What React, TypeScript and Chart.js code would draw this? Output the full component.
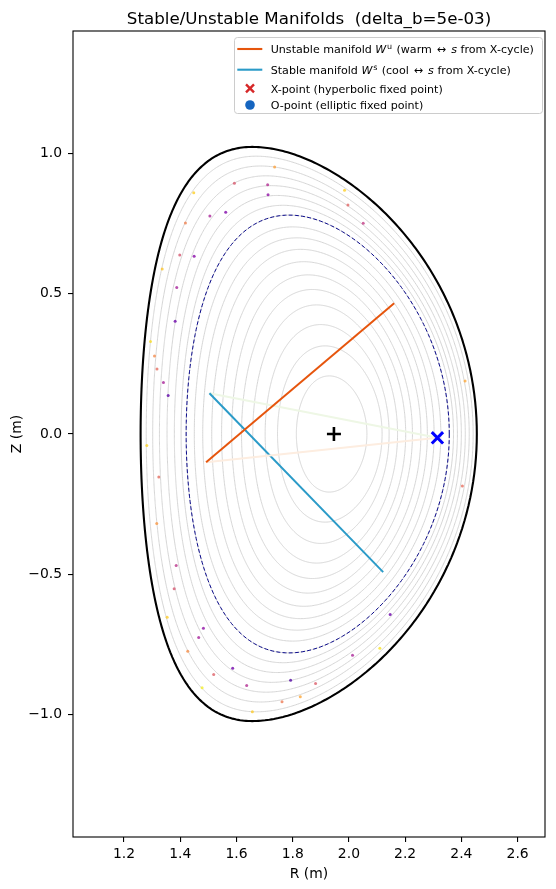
import React, { useEffect, useRef } from 'react';
import { Chart, registerables } from 'chart.js';

Chart.register(...registerables);

const W = 556;
const H = 889;
const FONT = "'DejaVu Sans', sans-serif";

const TITLE = 'Stable/Unstable Manifolds  (delta_b=5e-03)';
const X_LABEL = 'R (m)';
const Y_LABEL = 'Z (m)';

const xTicks = [1.2, 1.4, 1.6, 1.8, 2.0, 2.2, 2.4, 2.6];
const yTicks = [-1.0, -0.5, 0.0, 0.5, 1.0];
const xLimits = [1.0185, 2.6975];
const yLimits = [-1.436, 1.436];

// Grey flux surfaces: inboard / outboard midplane R, height of top, R of top, outboard squareness
const surfLeftR = [1.813, 1.746, 1.702, 1.658, 1.618, 1.583, 1.547, 1.512, 1.48, 1.45, 1.421, 1.403, 1.379, 1.353, 1.326, 1.302, 1.279];
const surfRightR = [2.064, 2.118, 2.143, 2.173, 2.202, 2.226, 2.256, 2.279, 2.303, 2.327, 2.357, 2.372, 2.386, 2.4, 2.414, 2.428, 2.442];
const surfTopZ = [0.207, 0.314, 0.39, 0.46, 0.515, 0.567, 0.614, 0.658, 0.699, 0.738, 0.78, 0.815, 0.85, 0.885, 0.92, 0.955, 0.99];
const surfTopR = [1.93, 1.915, 1.9, 1.885, 1.87, 1.855, 1.84, 1.828, 1.815, 1.8, 1.787, 1.765, 1.745, 1.725, 1.705, 1.685, 1.67];
const surfSquare = [0, 0, 0, 0, 0, 0, 0, 0, 0, 0, 0, 0.005, 0.01, 0.015, 0.02, 0.025, 0.03];

// Last closed surface (black) and the dashed surface: left R, right R, top Z, top R, squareness
const boundaryShape = [1.259, 2.455, 1.023, 1.656, 0.035];
const dashedShape = [1.421, 2.357, 0.78, 1.787, 0];

// Poincaré points
const poincareR = [1.7357, 1.5926, 1.7109, 1.7123, 1.448, 1.5055, 1.5617, 1.4185, 1.3983, 1.4494, 1.3357, 1.3876, 1.3819, 1.2942, 1.3084, 1.3173, 1.3403, 1.357, 1.281, 1.3237, 1.3165, 1.3855, 1.3784, 1.3535, 1.4824, 1.4657, 1.4267, 1.5865, 1.519, 1.4778, 1.6363, 1.7926, 1.8814, 1.827, 1.762, 1.6565, 2.0128, 2.0508, 1.9844, 1.9965, 2.4132, 2.4036, 2.1467, 2.1101];
const poincareZ = [0.9516, 0.8935, 0.8885, 0.8529, 0.86, 0.777, 0.79, 0.752, 0.638, 0.633, 0.588, 0.5216, 0.4019, 0.3292, 0.2782, 0.2319, 0.1831, 0.1368, -0.0413, -0.1528, -0.3192, -0.4688, -0.5518, -0.6527, -0.6918, -0.7253, -0.7738, -0.8344, -0.8571, -0.9045, -0.8963, -0.8771, -0.8892, -0.9366, -0.9544, -0.99, -0.788, 0.751, 0.8685, 0.8162, 0.1892, -0.1849, -0.6434, -0.7631];
const poincareColor = ['#fb9f3a', '#d8576b', '#b12a90', '#8f0da4', '#fcce25', '#a82296', '#7e03a8', '#f0804e', '#d5546e', '#8707a6', '#fdc328', '#a62098', '#6a00a8', '#f9dc24', '#f48849', '#e56b5d', '#a72197', '#5c01a6', '#fcd225', '#e36b5d', '#f89540', '#b83289', '#d5546e', '#fdc926', '#8f0da4', '#a62098', '#f58c46', '#6f00a8', '#dd5e66', '#f3ee27', '#b12a90', '#5002a2', '#db5c68', '#fca636', '#ed7953', '#fdca26', '#a82296', '#c03a83', '#fcce25', '#e16462', '#fca636', '#e66c5c', '#6a00a8', '#f7e225'];

// Manifold segments
const unstableR = [1.492, 2.161];
const unstableZ = [-0.1004, 0.4658];
const stableR = [1.5038, 2.1219];
const stableZ = [0.1453, -0.4922];
const unstableNearR = [2.3148, 1.492];
const unstableNearZ = [-0.0135, -0.1004];
const stableNearR = [2.3148, 1.5038];
const stableNearZ = [-0.0135, 0.1453];

const xPointR = [2.3148];
const xPointZ = [-0.0135];
const oPointR = [1.9467];
const oPointZ = [0.0];

function surfacePoints(leftR: number, rightR: number, topZ: number, topR: number, sq: number, n = 240) {
  const rc = (leftR + rightR) / 2;
  const a = (rightR - leftR) / 2;
  const d = Math.asin(Math.max(-1, Math.min(1, (rc - topR) / a)));
  const pts: { x: number; y: number }[] = [];
  for (let i = 0; i <= n; i++) {
    const t = (2 * Math.PI * i) / n;
    const outboard = Math.cos(t) > 0;
    const tz = outboard ? t + sq * Math.sin(2 * t) : t;
    pts.push({ x: rc + a * Math.cos(t + d * Math.sin(t)), y: topZ * Math.sin(tz) });
  }
  return pts;
}

function zip(rs: number[], zs: number[]) {
  return rs.map((r, i) => ({ x: r, y: zs[i] }));
}

function fmt(v: number) {
  return Number(v).toFixed(1).replace('-', '\u2212');
}

type Part = { t: string; s?: 'i' | 'sup'; pad?: number };

function drawRich(ctx: CanvasRenderingContext2D, x: number, y: number, parts: Part[], size: number) {
  let cx = x;
  ctx.textBaseline = 'alphabetic';
  ctx.textAlign = 'left';
  for (const p of parts) {
    let dy = 0;
    if (p.s === 'i') ctx.font = `italic ${size}px ${FONT}`;
    else if (p.s === 'sup') {
      ctx.font = `${size * 0.72}px ${FONT}`;
      dy = -size * 0.42;
    } else ctx.font = `${size}px ${FONT}`;
    cx += p.pad || 0;
    ctx.fillText(p.t, cx, y + dy);
    cx += ctx.measureText(p.t).width + (p.pad || 0);
  }
}

const decorPlugin = {
  id: 'decor',
  afterDraw(chart: any) {
    const { ctx, chartArea } = chart;
    const { left, right, top, bottom } = chartArea;
    ctx.save();
    // frame
    ctx.strokeStyle = '#000';
    ctx.lineWidth = 1.1;
    ctx.strokeRect(left, top, right - left, bottom - top);
    // title
    ctx.fillStyle = '#000';
    ctx.font = `16.7px ${FONT}`;
    ctx.textAlign = 'center';
    ctx.textBaseline = 'alphabetic';
    ctx.fillText(TITLE, (left + right) / 2, 23.5);

    // legend
    const bx = 234.5, by = 37.5, bw = 308, bh = 76, rr = 3;
    ctx.beginPath();
    ctx.moveTo(bx + rr, by);
    ctx.arcTo(bx + bw, by, bx + bw, by + bh, rr);
    ctx.arcTo(bx + bw, by + bh, bx, by + bh, rr);
    ctx.arcTo(bx, by + bh, bx, by, rr);
    ctx.arcTo(bx, by, bx + bw, by, rr);
    ctx.closePath();
    ctx.fillStyle = 'rgba(255,255,255,0.8)';
    ctx.fill();
    ctx.strokeStyle = '#cccccc';
    ctx.lineWidth = 1;
    ctx.stroke();

    const size = 11.1;
    const tx = 270.7;
    // row 1
    ctx.strokeStyle = '#e6550d';
    ctx.lineWidth = 2.1;
    ctx.beginPath();
    ctx.moveTo(237.3, 49);
    ctx.lineTo(262.3, 49);
    ctx.stroke();
    ctx.fillStyle = '#000';
    drawRich(ctx, tx, 53.3, [
      { t: 'Unstable manifold ' }, { t: 'W', s: 'i' }, { t: 'u', s: 'sup', pad: 0.8 },
      { t: ' (warm ' }, { t: '\u2194', pad: 1.5 }, { t: ' ' }, { t: 's', s: 'i' }, { t: ' from X-cycle)' },
    ], size);
    // row 2
    ctx.strokeStyle = '#2b9bc8';
    ctx.lineWidth = 2.1;
    ctx.beginPath();
    ctx.moveTo(237.3, 69.7);
    ctx.lineTo(262.3, 69.7);
    ctx.stroke();
    ctx.fillStyle = '#000';
    drawRich(ctx, tx, 74.3, [
      { t: 'Stable manifold ' }, { t: 'W', s: 'i' }, { t: 's', s: 'sup', pad: 0.8 },
      { t: ' (cool ' }, { t: '\u2194', pad: 1.5 }, { t: ' ' }, { t: 's', s: 'i' }, { t: ' from X-cycle)' },
    ], size);
    // row 3: red x
    ctx.strokeStyle = '#d62728';
    ctx.lineWidth = 2.4;
    ctx.beginPath();
    ctx.moveTo(246, 84.3); ctx.lineTo(254, 92.3);
    ctx.moveTo(254, 84.3); ctx.lineTo(246, 92.3);
    ctx.stroke();
    ctx.fillStyle = '#000';
    drawRich(ctx, tx, 92.5, [{ t: 'X-point (hyperbolic fixed point)' }], size);
    // row 4: blue dot
    ctx.fillStyle = '#1565c0';
    ctx.beginPath();
    ctx.arc(250, 105, 4.8, 0, Math.PI * 2);
    ctx.fill();
    ctx.fillStyle = '#000';
    drawRich(ctx, tx, 109, [{ t: 'O-point (elliptic fixed point)' }], size);
    ctx.restore();
  },
};

export default function App() {
  const ref = useRef<HTMLCanvasElement>(null);
  useEffect(() => {
    if (!ref.current) return;
    Chart.defaults.font.family = FONT;
    const layers: any[] = [];
    surfLeftR.forEach((l, i) => {
      layers.push({
        data: surfacePoints(l, surfRightR[i], surfTopZ[i], surfTopR[i], surfSquare[i]),
        showLine: true, pointRadius: 0, borderColor: '#d0d0d0', borderWidth: 0.9, fill: false, tension: 0.001,
      });
    });
    layers.push({
      data: surfacePoints(boundaryShape[0], boundaryShape[1], boundaryShape[2], boundaryShape[3], boundaryShape[4]),
      showLine: true, pointRadius: 0, borderColor: '#000', borderWidth: 2.1, fill: false, tension: 0.001,
    });
    layers.push({
      data: surfacePoints(dashedShape[0], dashedShape[1], dashedShape[2], dashedShape[3], dashedShape[4]),
      showLine: true, pointRadius: 0, borderColor: '#0a0a8c', borderWidth: 1, borderDash: [4, 2.2], fill: false,
    });
    layers.push({
      data: zip(poincareR, poincareZ), showLine: false, pointRadius: 1.5, pointBorderWidth: 0,
      backgroundColor: poincareColor.map((c) => c + 'c8'), borderWidth: 0, pointStyle: 'circle',
    });
    layers.push({ data: zip(stableNearR, stableNearZ), showLine: true, pointRadius: 0, borderColor: '#eef7e5', borderWidth: 2 });
    layers.push({ data: zip(stableR, stableZ), showLine: true, pointRadius: 0, borderColor: '#2b9bc8', borderWidth: 2 });
    layers.push({ data: zip(unstableNearR, unstableNearZ), showLine: true, pointRadius: 0, borderColor: '#fdede0', borderWidth: 2 });
    layers.push({ data: zip(unstableR, unstableZ), showLine: true, pointRadius: 0, borderColor: '#e6550d', borderWidth: 2 });
    layers.push({
      data: zip(xPointR, xPointZ), showLine: false, pointStyle: 'crossRot', pointRadius: 8,
      borderColor: '#0000ff', borderWidth: 3, backgroundColor: '#0000ff',
    });
    layers.push({
      data: zip(oPointR, oPointZ), showLine: false, pointStyle: 'cross', pointRadius: 7,
      borderColor: '#000', borderWidth: 2.6, backgroundColor: '#000',
    });
    layers.forEach((d, i) => { d.order = -i; });

    const chart = new Chart(ref.current, {
      type: 'scatter',
      data: { datasets: layers },
      options: {
        responsive: false,
        maintainAspectRatio: false,
        animation: false,
        events: [],
        layout: { padding: { top: 31, right: 10, left: 0, bottom: 0 } },
        plugins: { legend: { display: false }, tooltip: { enabled: false }, title: { display: false } },
        scales: {
          x: {
            type: 'linear',
            min: xLimits[0],
            max: xLimits[1],
            afterBuildTicks: (s: any) => { s.ticks = xTicks.map((v) => ({ value: v })); },
            afterFit: (s: any) => { s.height = 52; },
            grid: { drawOnChartArea: false, drawTicks: true, tickLength: 5, color: '#000', lineWidth: 1.1 },
            border: { display: false },
            ticks: { color: '#000', font: { size: 13.9, family: FONT }, padding: 4, maxRotation: 0, autoSkip: false, callback: (v: any) => fmt(v) },
            title: { display: true, text: X_LABEL, color: '#000', font: { size: 13.9, family: FONT }, padding: { top: 0, bottom: 6 } },
          },
          y: {
            type: 'linear',
            min: yLimits[0],
            max: yLimits[1],
            afterBuildTicks: (s: any) => { s.ticks = yTicks.map((v) => ({ value: v })); },
            afterFit: (s: any) => { s.width = 73; },
            grid: { drawOnChartArea: false, drawTicks: true, tickLength: 5, color: '#000', lineWidth: 1.1 },
            border: { display: false },
            ticks: { color: '#000', font: { size: 13.9, family: FONT }, padding: 6, autoSkip: false, callback: (v: any) => fmt(v) },
            title: { display: true, text: Y_LABEL, color: '#000', font: { size: 13.9, family: FONT }, padding: { top: 9, bottom: 0 } },
          },
        },
      },
      plugins: [decorPlugin],
    });
    return () => chart.destroy();
  }, []);

  return (
    <div style={{ position: 'fixed', left: 0, top: 0, width: W, height: H, background: '#fff' }}>
      <canvas ref={ref} width={W} height={H} style={{ width: W, height: H, display: 'block' }} />
    </div>
  );
}
